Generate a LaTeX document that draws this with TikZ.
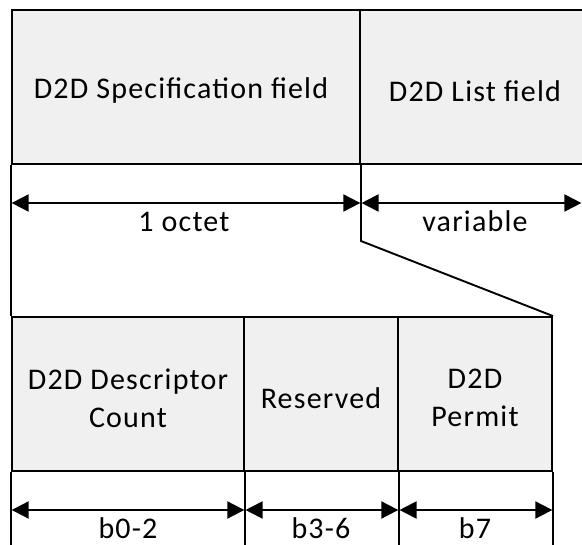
\documentclass[tikz,border=0pt]{standalone}
\usepackage{fontspec}
\setmainfont[LetterSpace=4]{Carlito}
\usetikzlibrary{arrows.meta}
\definecolor{cellgray}{HTML}{F0F0F0}
\tikzset{
  cell/.style={draw=black, line width=1.9pt, fill=cellgray, inner sep=0pt},
  celltext/.style={font=\fontsize{30}{38}\selectfont, align=center, inner sep=0pt},
  rule/.style={draw=black, line width=1.9pt},
  span/.style={line width=1.9pt, {Triangle[length=17pt,width=17pt]}-{Triangle[length=17pt,width=17pt]}, shorten <=0.6pt, shorten >=0.6pt},
  sizelabel/.style={font=\fontsize{30}{38}\selectfont, anchor=base, inner sep=0pt},
}
\begin{document}
\begin{tikzpicture}[x=1pt,y=-1pt]
\useasboundingbox (0,0) rectangle (582,545);

% upper row: specification and list fields
\node[cell, minimum width=348pt, minimum height=154pt] (spec) at (186,87) {};
\node[cell, minimum width=230pt, minimum height=154pt] (list) at (475,87) {};
\node[celltext] (spec-t) at ([xshift=-5pt,yshift=-4pt]spec.center) {D2D Specification field};
\node[celltext] (list-t) at ([yshift=-4pt]list.center) {D2D List field};

% lower row: bits of the specification field
\node[cell, minimum width=232pt, minimum height=154pt] (count) at (128,394) {};
\node[cell, minimum width=154pt, minimum height=154pt] (resv) at (321,394) {};
\node[cell, minimum width=154pt, minimum height=154pt] (permit) at (475,394) {};
\node[celltext] (count-t) at ([yshift=-4pt]count.center) {D2D Descriptor\\Count};
\node[celltext] (resv-t) at ([yshift=-4pt]resv.center) {Reserved};
\node[celltext] (permit-t) at ([yshift=-4pt]permit.center) {D2D\\Permit};

% guide lines
\coordinate (bend) at (spec.south east |- 0,241);
\draw[rule] (spec.south west) -- (count.north west);
\draw[rule] (spec.south east) -- (bend) -- (permit.north east);
\foreach \n in {count.south west, count.south east, resv.south east, permit.south east}
  \draw[rule] (\n) -- ++(0,80);

% size arrows, upper row
\coordinate (a0) at (spec.south west |- 0,203);
\coordinate (a1) at (spec.south east |- 0,203);
\coordinate (a2) at (582,203);
\draw[span] (a0) -- (a1);
\draw[span] (a1) -- (a2);
\node[sizelabel] (l1) at (184,232) {1 octet};
\node[sizelabel] (l2) at (475,232) {variable};

% size arrows, lower row
\coordinate (b0) at (count.south west |- 0,510);
\coordinate (b1) at (count.south east |- 0,510);
\coordinate (b2) at (resv.south east |- 0,510);
\coordinate (b3) at (permit.south east |- 0,510);
\draw[span] (b0) -- (b1);
\draw[span] (b1) -- (b2);
\draw[span] (b2) -- (b3);
\node[sizelabel] (m1) at (128,539) {b0-2};
\node[sizelabel] (m2) at (321,539) {b3-6};
\node[sizelabel] (m3) at (475,539) {b7};
\end{tikzpicture}
\end{document}
